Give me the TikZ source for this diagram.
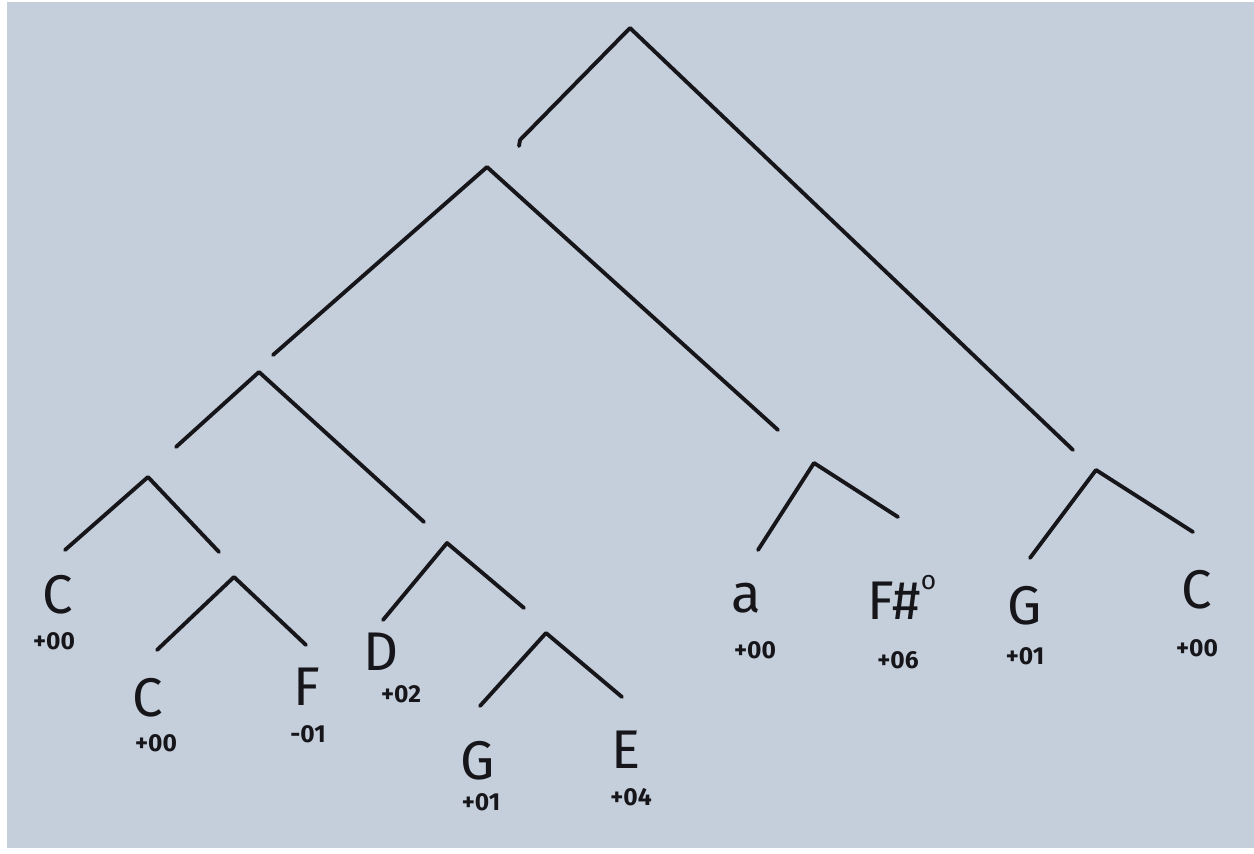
\documentclass[tikz,border=0pt]{standalone}
\usepackage{fontspec}
\setmainfont{Fira Sans}
\definecolor{paper}{RGB}{197,206,219}
\definecolor{ink}{RGB}{22,22,26}
\begin{document}
\begin{tikzpicture}[x=0.02cm,y=-0.02cm,
  branch/.style={draw=ink,line width=2.2pt,line cap=round,line join=round},
  chord/.style={text=ink,font=\fontsize{31}{31}\selectfont,inner sep=0pt,anchor=center},
  offset/.style={text=ink,font=\fontsize{14}{14}\selectfont\bfseries,inner sep=0pt,anchor=center}]
% sheet of paper
\fill[white] (0,0) rectangle (1254,854);
\fill[paper] (7,2) rectangle (1254,848);
\useasboundingbox (0,0) rectangle (1254,854);

% branching points and branch ends
\coordinate (r)   at (630,28);
\coordinate (rL)  at (520,140);
\coordinate (rR)  at (1073,450);
\coordinate (n2)  at (487,167);
\coordinate (n2L) at (273,355);
\coordinate (n2R) at (778,430);
\coordinate (n3)  at (259,372);
\coordinate (n3L) at (176,447);
\coordinate (n3R) at (424,522);
\coordinate (n4)  at (148,477);
\coordinate (n4L) at (65,550);
\coordinate (n4R) at (219,552);
\coordinate (n5)  at (234,577);
\coordinate (n5L) at (157,650);
\coordinate (n5R) at (306,645);
\coordinate (n6)  at (447,543);
\coordinate (n6L) at (383,620);
\coordinate (n6R) at (524,608);
\coordinate (n7)  at (546,633);
\coordinate (n7L) at (480,706);
\coordinate (n7R) at (622,697);
\coordinate (n8)  at (814,463);
\coordinate (n8L) at (758,550);
\coordinate (n8R) at (898,517);
\coordinate (n9)  at (1096,470);
\coordinate (n9L) at (1030,558);
\coordinate (n9R) at (1193,532);

% branches
\draw[branch] (rL) -- (r) -- (rR);
\draw[branch] (rL) -- ++(-1,6);
\draw[branch] (n2L) -- (n2) -- (n2R);
\draw[branch] (n3L) -- (n3) -- (n3R);
\draw[branch] (n4L) -- (n4) -- (n4R);
\draw[branch] (n5L) -- (n5) -- (n5R);
\draw[branch] (n6L) -- (n6) -- (n6R);
\draw[branch] (n7L) -- (n7) -- (n7R);
\draw[branch] (n8L) -- (n8) -- (n8R);
\draw[branch] (n9L) -- (n9) -- (n9R);

% chord symbols
\node[chord] (c1) at (58,595) {C};
\node[chord] (c2) at (148,698) {C};
\node[chord] (c3) at (307,687) {F};
\node[chord] (c4) at (381,652) {D};
\node[chord] (c5) at (478,761) {G};
\node[chord] (c6) at (626,750) {E};
\node[chord] (c7) at (746,598) {a};
\node[chord] (c8) at (902,597) {F\#\raisebox{0.55em}{\fontsize{15}{15}\selectfont o}};
\node[chord] (c9) at (1025,606) {G};
\node[chord] (c10) at (1197,590) {C};

% offsets
\node[offset] (o1) at (54,641) {+00};
\node[offset] (o2) at (156,743) {+00};
\node[offset] (o3) at (308,734) {-01};
\node[offset] (o4) at (401,694) {+02};
\node[offset] (o5) at (481,802) {+01};
\node[offset] (o6) at (631,797) {+04};
\node[offset] (o7) at (755,650) {+00};
\node[offset] (o8) at (898,660) {+06};
\node[offset] (o9) at (1025,656) {+01};
\node[offset] (o10) at (1197,648) {+00};
\end{tikzpicture}
\end{document}
